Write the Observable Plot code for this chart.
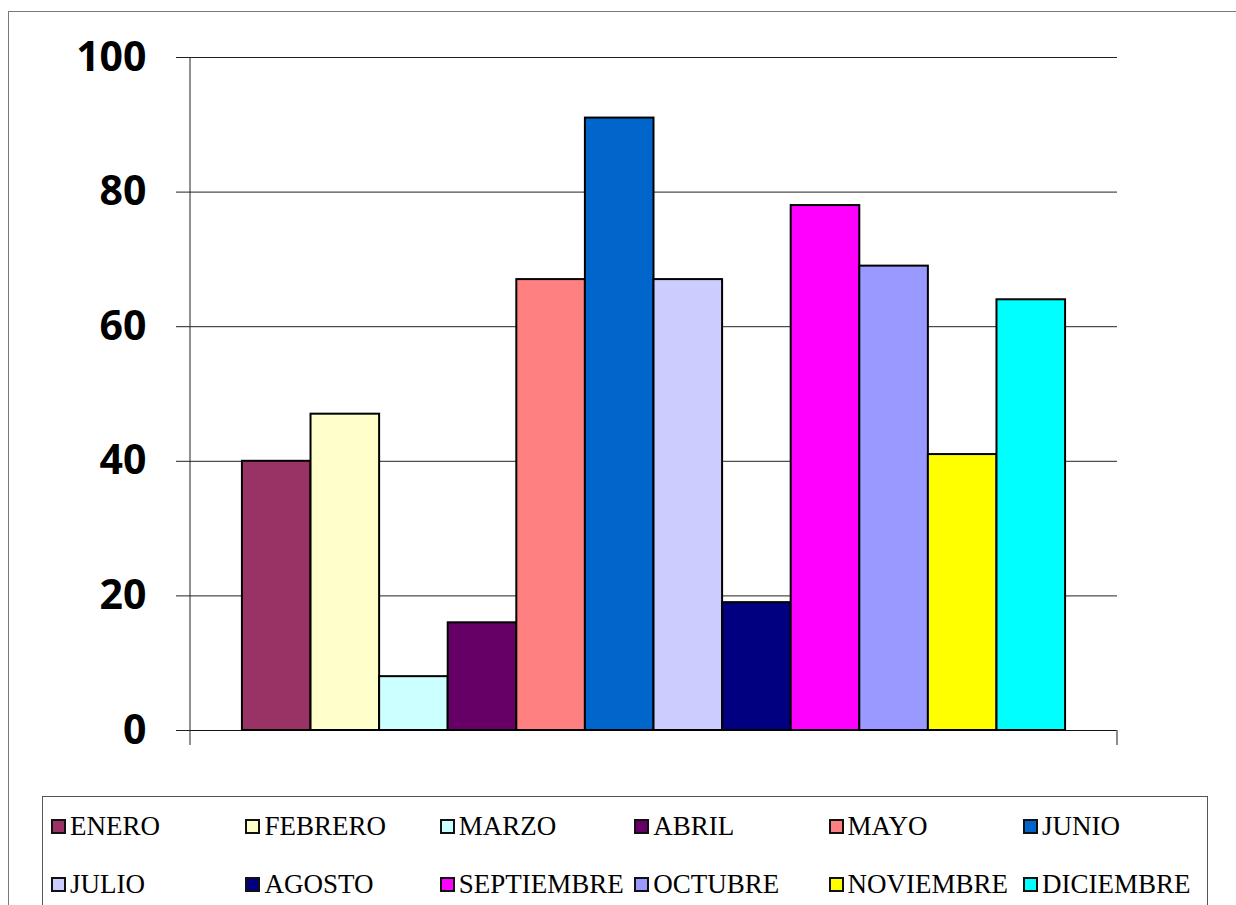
<!DOCTYPE html>
<html>
<head>
<meta charset="utf-8">
<script src="https://cdn.jsdelivr.net/npm/d3@7"></script>
<script src="https://cdn.jsdelivr.net/npm/@observablehq/plot@0.6"></script>
<style>
  html, body { margin: 0; padding: 0; background: white; }
  #page { position: relative; width: 1236px; height: 905px; overflow: hidden; background: white; }
  #frame { position: absolute; left: 8px; top: 11px; right: -20px; bottom: -20px; border: 1.5px solid #7a7a7a; z-index: 3; pointer-events: none; }
  #chart { position: absolute; left: 0; top: 0; z-index: 1; }
  #legend { position: absolute; left: 42px; top: 796px; width: 1164px; bottom: -20px; border: 1px solid #555; background: white; z-index: 2; }
  .item { position: absolute; display: flex; align-items: center; height: 30px; color: #000; white-space: nowrap; }
  .sw { width: 11px; height: 11px; border: 2px solid #111; margin-right: 4px; flex: none; }
</style>
</head>
<body>
<div id="page">
  <div id="frame"></div>
  <div id="chart"></div>
  <div id="legend"></div>
</div>
<script>
const months = ["ENERO","FEBRERO","MARZO","ABRIL","MAYO","JUNIO","JULIO","AGOSTO","SEPTIEMBRE","OCTUBRE","NOVIEMBRE","DICIEMBRE"];
const values = [40, 47, 8, 16, 67, 91, 67, 19, 78, 69, 41, 64];
const colors = ["#993366","#FFFFCC","#CCFFFF","#660066","#FF8080","#0066CC","#CCCCFF","#000080","#FF00FF","#9999FF","#FFFF00","#00FFFF"];
const yTicks = [0, 20, 40, 60, 80, 100];

const data = months.map((m, i) => ({mes: m, valor: values[i]}));

const axisLines = (index, {y}, values, dims) => {
  const g = d3.create("svg:g");
  const left = dims.marginLeft;
  const right = dims.width - dims.marginRight;
  g.append("line").attr("x1", left).attr("x2", left)
    .attr("y1", dims.marginTop).attr("y2", y(0) + 15)
    .attr("stroke", "#222").attr("stroke-width", 1);
  g.append("line").attr("x1", right).attr("x2", right)
    .attr("y1", y(0)).attr("y2", y(0) + 15)
    .attr("stroke", "#666").attr("stroke-width", 1.5);
  return g.node();
};

const chart = Plot.plot({
  width: 1236,
  height: 790,
  marginTop: 57,
  marginBottom: 60,
  marginLeft: 190,
  marginRight: 119,
  style: {background: "transparent", overflow: "visible"},
  x: {domain: months, paddingInner: 0, paddingOuter: 0.757, round: false, axis: null},
  y: {domain: [0, 100], axis: null},
  color: {domain: months, range: colors},
  marks: [
    Plot.gridY(yTicks.filter(d => d > 0), {stroke: "#222", strokeOpacity: 1, strokeWidth: 1}),
    Plot.ruleY([0], {stroke: "#111", strokeWidth: 1.2}),
    Plot.axisY(yTicks, {
      anchor: "left",
      label: null,
      tickSize: 14,
      tickPadding: 30,
      stroke: "#222",
      fontSize: 41,
      fontWeight: "bold",
      fontFamily: "Open Sans",
      fill: "#000"
    }),
    axisLines,
    Plot.barY(data, {x: "mes", y: "valor", fill: "mes", stroke: "#000", strokeWidth: 2})
  ]
});
document.getElementById("chart").appendChild(chart);

// legend
const legend = d3.select("#legend");
const colStart = 8, colStep = 194.4, rowCenters = [29, 87];
months.forEach((m, i) => {
  const r = Math.floor(i / 6), c = i % 6;
  const it = legend.append("div").attr("class", "item")
    .style("left", (colStart + c * colStep) + "px")
    .style("top", (rowCenters[r] - 15) + "px");
  it.append("div").attr("class", "sw").style("background", colors[i]);
  it.append("span")
    .style("font-family", "'Liberation Serif', 'DejaVu Serif', serif")
    .style("font-size", "27px")
    .text(m);
});
</script>
</body>
</html>
